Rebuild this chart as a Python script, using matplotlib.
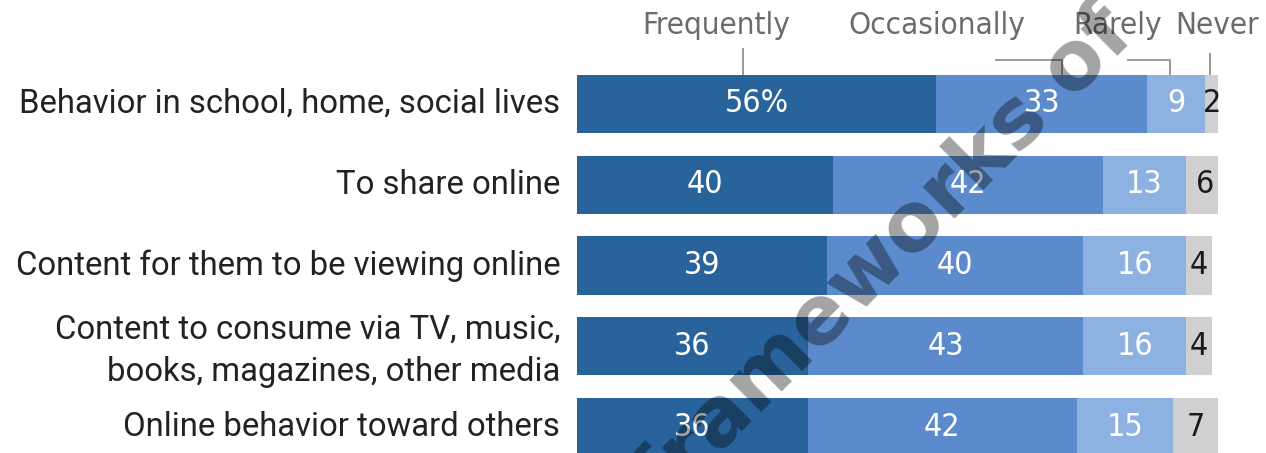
import matplotlib
matplotlib.use("Agg")
import matplotlib.pyplot as plt
import numpy as np

categories = [
    "Behavior in school, home, social lives",
    "To share online",
    "Content for them to be viewing online",
    "Content to consume via TV, music,\nbooks, magazines, other media",
    "Online behavior toward others",
]
series_names = ["Frequently", "Occasionally", "Rarely", "Never"]
frequently = [56, 40, 39, 36, 36]
occasionally = [33, 42, 40, 43, 42]
rarely = [9, 13, 16, 16, 15]
never = [2, 6, 4, 4, 7]

colors = ["#28639b", "#5b8bcc", "#8db2e2", "#d0d0d0"]
label_colors = ["white", "white", "white", "#1a1a1a"]

W, H = 1266, 453
fig = plt.figure(figsize=(W / 100, H / 100), dpi=100)
# bar area: 0..100 spans 641 px starting at x=577
ax = fig.add_axes([577 / W, 0, 641 / W, 1])
row_px = 80.75
first_px = 104
ax.set_xlim(0, 100)
ax.set_ylim((H - first_px) / row_px, -first_px / row_px)
ax.axis("off")

narrow = dict(family="DejaVu Sans", fontstretch="condensed")
cat_font = "Roboto"

y = np.arange(len(categories))
left = np.zeros(len(categories))
for vals, col, tcol in zip([frequently, occasionally, rarely, never], colors, label_colors):
    vals = np.array(vals, dtype=float)
    ax.barh(y, vals, left=left, height=0.72, color=col, edgecolor="none")
    for i, (v, l) in enumerate(zip(vals, left)):
        txt = f"{int(v)}%" if (i == 0 and col == colors[0]) else f"{int(v)}"
        ax.text(l + v / 2, y[i], txt, ha="center", va="center", color=tcol,
                fontsize=23, **narrow)
    left += vals

# category labels
for i, c in enumerate(categories):
    ax.text(-2.6, y[i] + (0.06 if "\n" in c else 0), c, ha="right", va="center",
            fontsize=23.7, family=cat_font, color="#222222", linespacing=1.4)

# series headers with leader lines
def py(p):
    return (p - first_px) / row_px

hdr_x = [21.7, 56.2, 84.4, 99.8]
for name, hx in zip(series_names, hdr_x):
    ax.text(hx, py(25), name, ha="center", va="center", fontsize=22.5,
            color="#6b6b6b", **narrow)

bar_top = py(74)
line_kw = dict(color="#9a9a9a", lw=1.4, clip_on=False)
ax.plot([25.9, 25.9], [py(49), bar_top], **line_kw)
ax.plot([65.4, 75.6, 75.6], [py(60), py(60), bar_top], **line_kw)
ax.plot([86.0, 92.5, 92.5], [py(60), py(60), bar_top], **line_kw)
ax.plot([98.8, 98.8], [py(54), bar_top], **line_kw)

# watermark
fig.text(885 / W, 1 - 257 / H, "frameworks of", rotation=45, ha="center", va="center",
         fontsize=59, fontweight="bold", family="DejaVu Sans", color="black", alpha=0.36,
         rotation_mode="anchor")

fig.savefig("out.png", dpi=100)
